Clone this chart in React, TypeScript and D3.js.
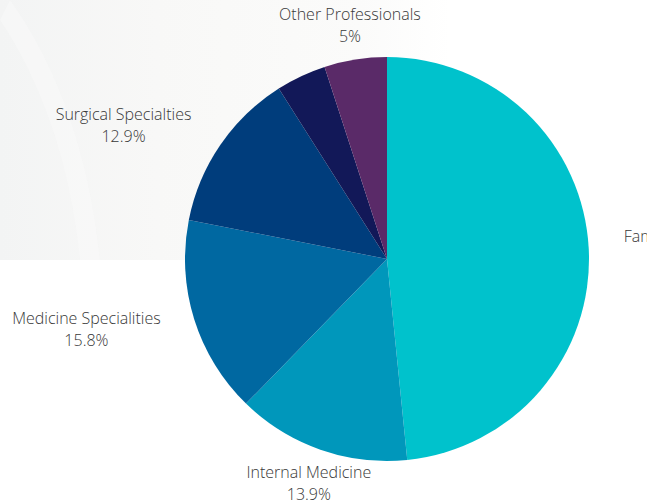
import React, { useEffect, useRef } from "react";
import * as d3 from "d3";

const categories = [
  "Family Medicine",
  "Internal Medicine",
  "Medicine Specialities",
  "Surgical Specialties",
  "Other Specialties",
  "Other Professionals",
];
const values = [48.4, 13.9, 15.8, 12.9, 4.0, 5.0];
const valueLabels = ["48.4%", "13.9%", "15.8%", "12.9%", "", "5%"];
const showLabel = [true, true, true, true, false, true];
const colors = ["#00c2cc", "#0097bb", "#0068a1", "#003d7c", "#121858", "#5a2a68"];

const W = 647;
const H = 504;

export default function App() {
  const ref = useRef<SVGSVGElement | null>(null);

  useEffect(() => {
    const svg = d3.select(ref.current);
    svg.selectAll("*").remove();

    const defs = svg.append("defs");
    const grad = defs
      .append("linearGradient")
      .attr("id", "bgGrad")
      .attr("x1", "0")
      .attr("x2", "1")
      .attr("y1", "0")
      .attr("y2", "0");
    grad.append("stop").attr("offset", "0").attr("stop-color", "#f3f4f4");
    grad.append("stop").attr("offset", "0.35").attr("stop-color", "#f8f8f7");
    grad.append("stop").attr("offset", "0.8").attr("stop-color", "#fbfbfa");
    grad.append("stop").attr("offset", "1").attr("stop-color", "#ffffff");

    svg.append("rect").attr("width", W).attr("height", H).attr("fill", "#ffffff");
    svg
      .append("rect")
      .attr("x", 0)
      .attr("y", 0)
      .attr("width", 450)
      .attr("height", 260)
      .attr("fill", "url(#bgGrad)");
    svg
      .append("path")
      .attr("d", "M0,20 C40,80 70,160 80,260 L100,260 C90,160 60,70 10,0 Z")
      .attr("fill", "#fafafa")
      .attr("opacity", 0.5);

    const cx = 387;
    const cy = 259;
    const R = 202;

    const pie = d3
      .pie<number>()
      .sort(null)
      .value((d) => d);
    const arcs = pie(values);
    const arc = d3.arc<d3.PieArcDatum<number>>().innerRadius(0).outerRadius(R);

    const g = svg.append("g").attr("transform", `translate(${cx},${cy})`);
    g.selectAll("path.slice")
      .data(arcs)
      .join("path")
      .attr("class", "slice")
      .attr("d", arc as any)
      .attr("fill", (_d, i) => colors[i]);

    const LR = 237;
    arcs.forEach((a, i) => {
      if (!showLabel[i]) return;
      const mid = (a.startAngle + a.endAngle) / 2;
      const px = Math.sin(mid) * LR;
      const py = -Math.cos(mid) * LR;
      const lg = g.append("g");
      const t = lg
        .append("text")
        .attr("text-anchor", "middle")
        .attr("font-family", "'Open Sans', sans-serif")
        .attr("font-weight", 300)
        .attr("font-size", 16)
        .attr("fill", "#383838");
      t.append("tspan").attr("x", 0).attr("y", -5).text(categories[i]);
      t.append("tspan").attr("x", 0).attr("y", 17).text(valueLabels[i]);
      const bb = (t.node() as SVGTextElement).getBBox();
      const w = bb.width;
      const s = Math.sin(mid);
      let x = px;
      if (s > 0.4) x = px + w / 2;
      else if (s < -0.4) x = px - w / 2;
      lg.attr("transform", `translate(${x},${py})`);
    });
  }, []);

  return (
    <div style={{ position: "fixed", left: 0, top: 0, width: W, height: H }}>
      <svg ref={ref} width={W} height={H} style={{ display: "block" }} />
    </div>
  );
}
